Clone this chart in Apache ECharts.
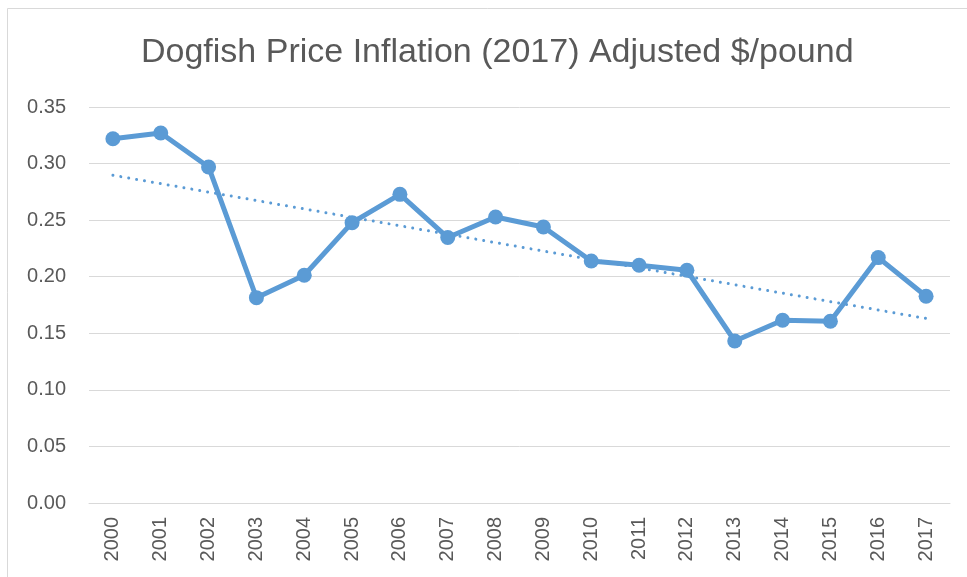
<!DOCTYPE html>
<html>
<head>
<meta charset="utf-8">
<title>Dogfish Price</title>
<script src="https://cdn.jsdelivr.net/npm/echarts@6/dist/echarts.min.js"></script>
<style>
  html, body { margin: 0; padding: 0; background: #fff; }
  #main { width: 967px; height: 577px; }
</style>
</head>
<body>
<div id="main"></div>
<script>
// 数据
var years = ['2000', '2001', '2002', '2003', '2004', '2005', '2006', '2007', '2008',
    '2009', '2010', '2011', '2012', '2013', '2014', '2015', '2016', '2017'];
var prices = [0.322, 0.327, 0.297, 0.1815, 0.2013, 0.2478, 0.2728, 0.2346, 0.2528,
    0.244, 0.2139, 0.2101, 0.2057, 0.1432, 0.1615, 0.1606, 0.2169, 0.1827];
var yTicks = [0, 0.35, 0.05];   // min, max, interval

// 线性趋势线 (Excel trendline)
function linearTrend(vals) {
    var n = vals.length, sx = 0, sy = 0, sxy = 0, sxx = 0;
    for (var i = 0; i < n; i++) {
        sx += i; sy += vals[i]; sxy += i * vals[i]; sxx += i * i;
    }
    var b = (n * sxy - sx * sy) / (n * sxx - sx * sx);
    var a = (sy - b * sx) / n;
    var out = [];
    for (var j = 0; j < n; j++) out.push(a + b * j);
    return out;
}

var textColor = '#595959';
var lineColor = '#5B9BD5';

var myChart = echarts.init(document.getElementById('main'));
var option = {
    backgroundColor: '#fff',
    animation: false,
    title: {
        text: 'Dogfish Price Inflation (2017) Adjusted $/pound',
        left: 136,
        top: 31,
        textStyle: {
            color: textColor,
            fontSize: 34,
            fontWeight: 'normal',
            fontFamily: 'Liberation Sans, sans-serif'
        }
    },
    graphic: [{
        type: 'polyline',
        shape: { points: [[7.5, 577], [7.5, 8.5], [967, 8.5]] },
        style: { stroke: '#D9D9D9', lineWidth: 1, fill: null },
        silent: true
    }],
    grid: {
        left: 89,
        right: 17,
        top: 107,
        bottom: 74
    },
    xAxis: {
        type: 'category',
        data: years,
        boundaryGap: true,
        axisLine: { show: true, lineStyle: { color: '#D9D9D9', width: 1 } },
        axisTick: { show: false },
        axisLabel: {
            rotate: 90,
            margin: 14,
            color: textColor,
            fontSize: 20,
            fontFamily: 'Liberation Sans, sans-serif'
        }
    },
    yAxis: {
        type: 'value',
        min: yTicks[0],
        max: yTicks[1],
        interval: yTicks[2],
        axisLine: { show: false },
        axisTick: { show: false },
        splitLine: { lineStyle: { color: '#D9D9D9', width: 1 } },
        axisLabel: {
            margin: 23,
            color: textColor,
            fontSize: 20,
            fontFamily: 'Liberation Sans, sans-serif',
            formatter: function (v) { return v.toFixed(2); }
        }
    },
    series: [
        {
            name: 'Price',
            type: 'line',
            data: prices,
            symbol: 'circle',
            symbolSize: 15,
            itemStyle: { color: lineColor },
            lineStyle: { color: lineColor, width: 5 },
            z: 3
        },
        {
            name: 'Trend',
            type: 'line',
            data: linearTrend(prices),
            symbol: 'none',
            lineStyle: { color: lineColor, width: 3, type: [0.01, 8], cap: 'round' },
            z: 2
        }
    ]
};
myChart.setOption(option);
</script>
</body>
</html>
